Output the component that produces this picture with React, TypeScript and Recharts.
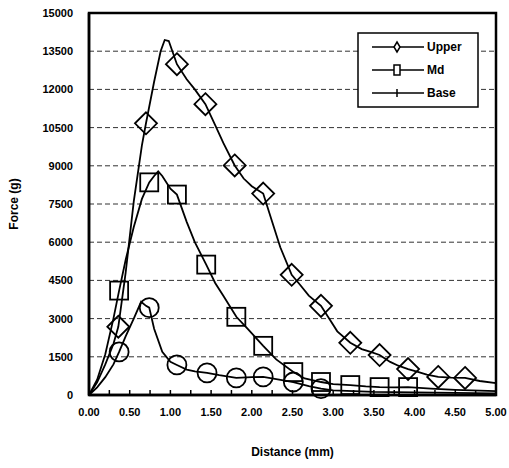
import React from "react"
import { LineChart, Line, XAxis, YAxis, CartesianGrid, ReferenceArea, Label } from "recharts"

const distanceTicks = [0, 0.25, 0.5, 0.75, 1, 1.25, 1.5, 1.75, 2, 2.25, 2.5, 2.75, 3, 3.25, 3.5, 3.75, 4, 4.25, 4.5, 4.75, 5]
const forceTicks = [0, 1500, 3000, 4500, 6000, 7500, 9000, 10500, 12000, 13500, 15000]

const upperDistance = [0, 0.1, 0.2, 0.3, 0.36, 0.45, 0.55, 0.65, 0.7, 0.8, 0.88, 0.93, 0.98, 1.08, 1.2, 1.3, 1.43, 1.55, 1.65, 1.79, 1.9, 2.0, 2.14, 2.25, 2.35, 2.49, 2.6, 2.7, 2.85, 2.95, 3.05, 3.21, 3.35, 3.45, 3.57, 3.7, 3.8, 3.92, 4.05, 4.15, 4.29, 4.45, 4.62, 4.8, 5.0]
const upperForce = [0, 500, 1200, 2000, 2680, 4800, 7600, 9800, 10670, 12300, 13500, 13940, 13900, 12990, 12400, 12000, 11420, 10600, 9900, 9015, 8500, 8200, 7910, 6800, 5800, 4720, 4300, 3900, 3500, 3000, 2500, 2050, 1800, 1700, 1570, 1300, 1150, 1020, 900, 800, 710, 680, 670, 550, 470]
const upperMarkers = [0.36, 0.7, 1.08, 1.43, 1.79, 2.14, 2.49, 2.85, 3.21, 3.57, 3.92, 4.29, 4.62]

const mdDistance = [0, 0.1, 0.2, 0.3, 0.37, 0.45, 0.55, 0.65, 0.74, 0.8, 0.85, 0.9, 1.0, 1.08, 1.2, 1.3, 1.44, 1.55, 1.65, 1.81, 1.95, 2.14, 2.3, 2.51, 2.65, 2.85, 3.0, 3.21, 3.4, 3.57, 3.75, 3.92, 4.2, 4.5, 5.0]
const mdForce = [0, 600, 1600, 3000, 4100, 5300, 6600, 7700, 8350, 8600, 8780, 8600, 8100, 7870, 6800, 6000, 5120, 4400, 3900, 3070, 2600, 1930, 1400, 900, 650, 510, 430, 390, 340, 310, 300, 310, 250, 200, 150]
const mdMarkers = [0.37, 0.74, 1.08, 1.44, 1.81, 2.14, 2.51, 2.85, 3.21, 3.57, 3.92]

const baseDistance = [0, 0.1, 0.2, 0.3, 0.37, 0.45, 0.55, 0.64, 0.7, 0.74, 0.8, 0.9, 1.0, 1.08, 1.2, 1.3, 1.45, 1.6, 1.81, 2.0, 2.14, 2.3, 2.51, 2.7, 2.85, 3.0, 3.5, 4.0, 4.5, 5.0]
const baseForce = [0, 300, 700, 1200, 1690, 2300, 3000, 3660, 3500, 3430, 2600, 1700, 1300, 1180, 1000, 930, 870, 780, 670, 700, 710, 620, 510, 350, 250, 180, 120, 100, 80, 60]
const baseMarkers = [0.37, 0.74, 1.08, 1.45, 1.81, 2.14, 2.51, 2.85]

const seriesNames = ["Upper", "Md", "Base"]

const font = "'Liberation Sans', Arial, sans-serif"

const toRows = (xs: number[], ys: number[]) => xs.map((d, i) => ({ distance: d, force: ys[i] }))

function markerDot(marks: number[], shape: string) {
  return (p: any) => {
    const { cx, cy, payload, index } = p
    if (!marks.includes(payload.distance)) return <g key={`n${index}`} />
    if (shape === "diamond") {
      return <path key={`m${index}`} d={`M${cx},${cy - 11} L${cx + 11},${cy} L${cx},${cy + 11} L${cx - 11},${cy} Z`} fill="none" stroke="#000" strokeWidth={1.8} />
    }
    if (shape === "square") {
      return <rect key={`m${index}`} x={cx - 9} y={cy - 9} width={18} height={18} fill="none" stroke="#000" strokeWidth={1.8} />
    }
    return <circle key={`m${index}`} cx={cx} cy={cy} r={9.5} fill="none" stroke="#000" strokeWidth={1.8} />
  }
}

function DistanceTick({ x, y, payload }: any) {
  const v = payload.value
  const labelled = Math.abs(v * 2 - Math.round(v * 2)) < 1e-6
  return (
    <g>
      <line x1={x} x2={x} y1={y - 12} y2={y - 17} stroke="#000" strokeWidth={1.5} />
      {labelled && (
        <text x={x} y={y + 9} textAnchor="middle" fontSize={11} fontWeight="bold" fontFamily={font} fill="#000">
          {v.toFixed(2)}
        </text>
      )}
    </g>
  )
}

// legend drawn as an overlay so it doesn't eat into the plot height
function LegendBox() {
  const shapes = ["diamond", "square", "tick"]
  return (
    <svg width={122} height={76} style={{ position: "absolute", left: 357, top: 32 }}>
      <rect x={1} y={1} width={120} height={74} fill="#fff" stroke="#000" strokeWidth={1.5} />
      {seriesNames.map((name, i) => {
        const y = 15 + i * 23
        return (
          <g key={name}>
            <line x1={15} x2={67} y1={y} y2={y} stroke="#000" strokeWidth={1.5} />
            {shapes[i] === "diamond" && <path d={`M40,${y - 5} L43,${y} L40,${y + 5} L37,${y} Z`} fill="#fff" stroke="#000" strokeWidth={1.5} />}
            {shapes[i] === "square" && <rect x={37} y={y - 5} width={6} height={10} fill="#fff" stroke="#000" strokeWidth={1.5} />}
            {shapes[i] === "tick" && <line x1={40} x2={40} y1={y - 4} y2={y + 4} stroke="#000" strokeWidth={1.5} />}
            <text x={70} y={y + 4} fontSize={12} fontWeight="bold" fontFamily={font} fill="#000">
              {name}
            </text>
          </g>
        )
      })}
    </svg>
  )
}

export default function App() {
  return (
    <div style={{ position: "absolute", left: 0, top: 0, width: 509, height: 468, background: "#fff" }}>
      <LineChart width={509} height={468} margin={{ top: 13, right: 13, bottom: 43, left: 0 }}>
        <CartesianGrid vertical={false} stroke="#333" strokeDasharray="5 3" />
        <XAxis
          dataKey="distance"
          type="number"
          domain={[0, 5]}
          ticks={distanceTicks}
          interval={0}
          height={30}
          tickSize={0}
          tickMargin={12}
          tickLine={false}
          axisLine={{ stroke: "#000", strokeWidth: 2.5 }}
          tick={<DistanceTick />}
        >
          <Label value="Distance (mm)" position="bottom" offset={22} style={{ fontSize: 12, fontWeight: "bold", fontFamily: font, fill: "#000" }} />
        </XAxis>
        <YAxis
          type="number"
          domain={[0, 15000]}
          ticks={forceTicks}
          interval={0}
          width={89}
          tickSize={0}
          tickMargin={16}
          tickLine={false}
          axisLine={{ stroke: "#000", strokeWidth: 2.5 }}
          tick={{ fontSize: 11, fontWeight: "bold", fontFamily: font, fill: "#000" }}
        >
          <Label value="Force (g)" angle={-90} position="insideLeft" offset={14} style={{ fontSize: 12, fontWeight: "bold", fontFamily: font, fill: "#000", textAnchor: "middle" }} />
        </YAxis>
        <ReferenceArea x1={0} x2={5} y1={0} y2={15000} fill="none" stroke="#000" strokeWidth={2.5} ifOverflow="visible" />
        <Line data={toRows(upperDistance, upperForce)} dataKey="force" name="Upper" type="linear" stroke="#000" strokeWidth={1.8} dot={markerDot(upperMarkers, "diamond")} activeDot={false} isAnimationActive={false} />
        <Line data={toRows(mdDistance, mdForce)} dataKey="force" name="Md" type="linear" stroke="#000" strokeWidth={1.8} dot={markerDot(mdMarkers, "square")} activeDot={false} isAnimationActive={false} />
        <Line data={toRows(baseDistance, baseForce)} dataKey="force" name="Base" type="linear" stroke="#000" strokeWidth={1.8} dot={markerDot(baseMarkers, "circle")} activeDot={false} isAnimationActive={false} />
      </LineChart>
      <LegendBox />
    </div>
  )
}
